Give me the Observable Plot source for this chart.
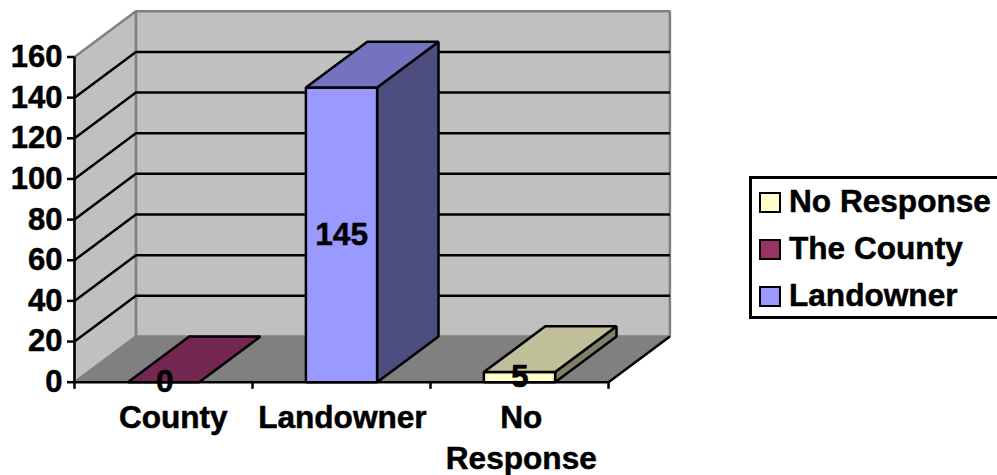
<!DOCTYPE html>
<html>
<head>
<meta charset="utf-8">
<script src="https://cdn.jsdelivr.net/npm/d3@7"></script>
<script src="https://cdn.jsdelivr.net/npm/@observablehq/plot@0.6"></script>
<style>
html,body{margin:0;padding:0;background:#fff;overflow:hidden;width:997px;height:475px}
#chart{position:absolute;left:0;top:0}
#chart svg text{stroke:#000;stroke-width:.5px}
#legend{position:absolute;left:749px;top:176px;width:248px;height:143px;box-sizing:border-box;border:3px solid #000;border-right:none;font:700 31.6px "Liberation Sans",Arial,sans-serif;color:#000;-webkit-text-stroke:.5px #000}
.row{position:absolute;left:7px;height:30px;display:flex;align-items:center;white-space:nowrap}
.lab{position:relative;top:-1px}
.sw{width:22px;height:21px;box-sizing:border-box;border:2.5px solid #000;margin-right:8px;flex:none}
</style>
</head>
<body>
<div id="chart"></div>
<div id="legend"></div>
<script>
const categories = ["County", "Landowner", "No\nResponse"];
const values = [0, 145, 5];
const frontColors = ["#993366", "#9999FF", "#FFFFCC"];
const topColors = ["#732650", "#7373BF", "#BFBF99"];
const sideColors = ["#4D1A33", "#4D4D80", "#808066"];
const legendLabels = ["No Response", "The County", "Landowner"];
const legendColors = ["#FFFFCC", "#993366", "#9999FF"];
const yTicks = [0, 20, 40, 60, 80, 100, 120, 140, 160];
const xTicks = [0, 1, 2, 3];
const labelShift = [0.055, 0.005, 0.01];

// Oblique depth of the plot box, in data units of each scale.
const depthX = 0.345, depthY = 22.5;
const barHalf = 0.2;
const P = (x, y, d = 0) => ({x: x + d * depthX, y: y + d * depthY});
const poly = (pts, fill, stroke, w) =>
  Plot.line(pts, {x: "x", y: "y", fill, stroke, strokeWidth: w, strokeLinejoin: "miter", curve: "linear-closed"});
const seg = (pts, stroke, w) =>
  Plot.line(pts, {x: "x", y: "y", stroke, strokeWidth: w, strokeLinejoin: "miter", strokeLinecap: "butt"});

const marks = [];
// walls and floor
marks.push(poly([P(0,0,1),P(3,0,1),P(3,160,1),P(0,160,1)], "#C0C0C0", "#808080", 2.5));
marks.push(poly([P(0,0,0),P(0,0,1),P(0,160,1),P(0,160,0)], "#C0C0C0", "#808080", 2.5));
marks.push(poly([P(0,0,0),P(3,0,0),P(3,0,1),P(0,0,1)], "#808080", "#808080", 1));
// gridlines
for (const t of yTicks.slice(1, -1)) marks.push(seg([P(0,t,0),P(0,t,1),P(3,t,1)], "#000", 2.5));
marks.push(seg([P(3,0,0),P(3,0,1)], "#000", 2.5));
// bars
values.forEach((v, i) => {
  const a = i + 0.5 - barHalf, b = i + 0.5 + barHalf;
  if (v > 0) {
    marks.push(poly([P(b,0,0),P(b,0,1),P(b,v,1),P(b,v,0)], sideColors[i], "#000", 2.5));
    marks.push(poly([P(a,0,0),P(b,0,0),P(b,v,0),P(a,v,0)], frontColors[i], "#000", 2.5));
  }
  marks.push(poly([P(a,v,0),P(b,v,0),P(b,v,1),P(a,v,1)], topColors[i], "#000", 2.5));
});
// axes
marks.push(Plot.ruleX([0], {y1: 0, y2: 160, stroke: "#000", strokeWidth: 2.5}));
marks.push(Plot.ruleY([0], {x1: 0, x2: 3, stroke: "#000", strokeWidth: 2.5}));
marks.push(Plot.axisY({ticks: yTicks, tickSize: 7, tickPadding: 5, fontSize: 31, fontWeight: 700, fill: "#000", stroke: "#000", strokeWidth: 2.5, label: null, tickFormat: String}));
marks.push(Plot.ruleX(xTicks, {x: d => d, y1: 0, y2: -3.5, stroke: "#000", strokeWidth: 2.5}));
// category labels
marks.push(Plot.text(categories, {
  x: (d, i) => i + 0.5 + labelShift[i], y: 0, text: d => d, dy: 17, lineAnchor: "top",
  fontSize: 31.6, fontWeight: 700, lineHeight: 1.3, fill: "#000"
}));
// value labels
marks.push(Plot.text(values, {
  x: (d, i) => i + 0.5 + labelShift[i] / 8, y: d => d / 2, text: String,
  fontSize: 31.6, fontWeight: 700, fill: "#000", lineAnchor: "middle"
}));

const chart = Plot.plot({
  width: 997, height: 475,
  marginLeft: 74, marginRight: 389, marginTop: 56.5, marginBottom: 93.3,
  x: {type: "linear", domain: [0, 3], axis: null},
  y: {type: "linear", domain: [0, 160], axis: null},
  style: {fontFamily: "'Liberation Sans', Arial, sans-serif", background: "#fff", color: "#000"},
  marks
});
document.getElementById("chart").appendChild(chart);

const legend = document.getElementById("legend");
legendLabels.forEach((t, i) => {
  const r = document.createElement("div");
  r.className = "row";
  r.style.top = (8 + i * 47) + "px";
  const s = document.createElement("span");
  s.className = "sw";
  s.style.background = legendColors[i];
  const l = document.createElement("span");
  l.className = "lab";
  l.textContent = t;
  r.appendChild(s);
  r.appendChild(l);
  legend.appendChild(r);
});
</script>
</body>
</html>
